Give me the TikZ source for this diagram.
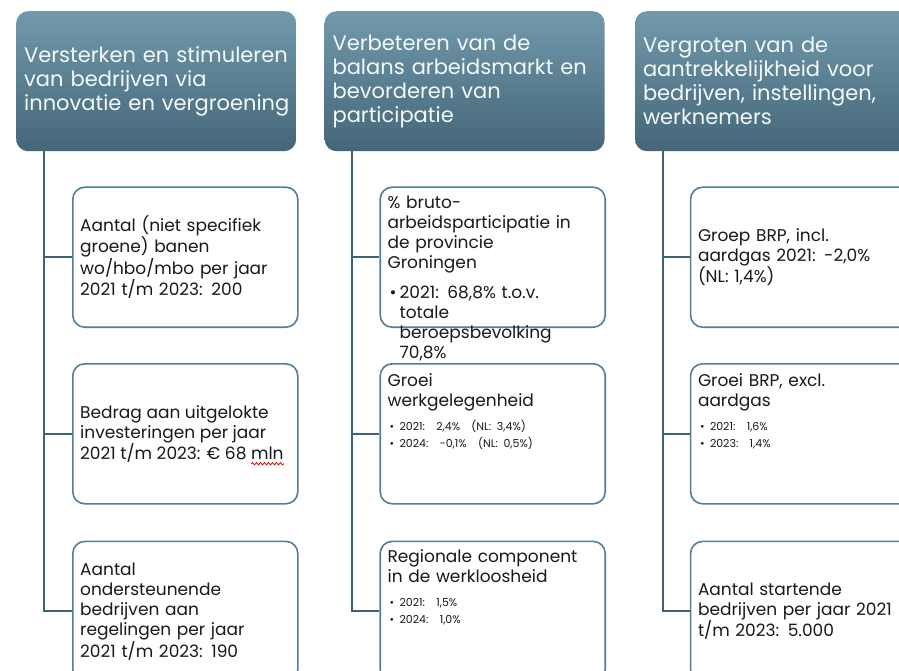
\documentclass[tikz,border=0pt]{standalone}
\usepackage{fontspec}
\setmainfont{Poppins}[Numbers=Proportional]
\usetikzlibrary{positioning,decorations.pathmorphing}
\definecolor{headtop}{RGB}{113,153,172}
\definecolor{headbot}{RGB}{68,102,120}
\definecolor{boxline}{RGB}{80,127,153}
\definecolor{linkcol}{RGB}{63,99,118}
\newcommand{\goaltxt}{\fontsize{17}{20}\selectfont}
\newcommand{\smalltxt}{\fontsize{11}{17}\selectfont}
\newcommand{\sbul}[1]{\hspace*{2pt}\makebox[10pt][l]{\textbullet}#1\par}
\newlength{\mlnwd}

\begin{document}
\settowidth{\mlnwd}{\goaltxt mln}%
\begin{tikzpicture}
        [head/.style={rectangle,rounded corners=12pt,top color=headtop,bottom color=headbot,
                      minimum width=280pt,minimum height=140pt,inner sep=0pt},
         htxt/.style={text width=272pt,align=left,inner sep=0pt,text=white!93!headtop,
                      font=\fontsize{21}{24}\selectfont},
         goal/.style={rectangle,rounded corners=12pt,draw=boxline,line width=1.6pt,fill=white,
                      minimum width=225pt,minimum height=140pt,inner sep=0pt},
         txt/.style={text width=214pt,align=left,inner sep=0pt,text=black!90,font=\goaltxt},
         link/.style={draw=linkcol,line width=1.9pt},
         wave/.style={red,line width=0.8pt,decorate,
                      decoration={snake,amplitude=1.2pt,segment length=4pt}}]
        \useasboundingbox (0,0) rectangle (899pt,-671pt);
        \clip (0,0) rectangle (899pt,-671pt);
        \fill[white] (0,0) rectangle (899pt,-671pt);

        \node[head,anchor=north west](h1) at (16pt,-11pt){};
        \node[head](h2)[right=28pt of h1]{};
        \node[head](h3)[right=30pt of h2]{};
        \node[htxt,anchor=west](h1t) at ([xshift=8pt]h1.west)
                {Versterken en stimuleren\\van bedrijven via\\innovatie en vergroening};
        \node[htxt,anchor=west](h2t) at ([xshift=8pt]h2.west)
                {Verbeteren van de\\balans arbeidsmarkt en\\bevorderen van\\participatie};
        \node[htxt,anchor=west](h3t) at ([xshift=8pt]h3.west)
                {Vergroten van de\\aantrekkelijkheid voor\\bedrijven, instellingen,\\werknemers};

        \node[goal](a1)[below=35pt of h1.south west,anchor=north west,xshift=56pt]{};
        \node[goal](a2)[below=35pt of a1]{};
        \node[goal](a3)[below=36pt of a2]{};
        \node[txt,anchor=west](a1t) at ([xshift=8pt]a1.west)
                {Aantal (niet specifiek\\groene) banen\\wo/hbo/mbo per jaar\\2021 t/m 2023: 200};
        \node[txt,text width=,anchor=west](a2t) at ([xshift=8pt]a2.west)
                {Bedrag aan uitgelokte\\investeringen per jaar\\2021 t/m 2023: € 68 mln};
        \node[txt,anchor=west](a3t) at ([xshift=8pt]a3.west)
                {Aantal\\ondersteunende\\bedrijven aan\\regelingen per jaar\\2021 t/m 2023: 190};
        \draw[wave]([xshift=-\mlnwd,yshift=-1pt]a2t.south east) -- ([yshift=-1pt]a2t.south east);

        \node[goal](b1)[below=35pt of h2.south west,anchor=north west,xshift=55pt]{};
        \node[txt,anchor=north west](b1t) at ([shift={(8pt,-9pt)}]b1.north west)
                {\% bruto-\\arbeidsparticipatie in\\de provincie\\Groningen\par
                 \vspace{10pt}\hangindent=12pt\hangafter=1\noindent
                 \hspace*{2pt}\makebox[10pt][l]{\textbullet}2021: 68,8\% t.o.v.\newline
                 totale\newline beroepsbevolking\newline 70,8\%\par};
        \node[goal](b2)[below=35pt of b1]{};
        \node[goal](b3)[below=36pt of b2]{};
        \node[txt,anchor=north west](b2t) at ([shift={(8pt,-10pt)}]b2.north west)
                {Groei\\werkgelegenheid\par\vspace{7pt}\smalltxt
                 \sbul{2021:\ \ 2,4\%\ \ (NL: 3,4\%)}\sbul{2024:\ \ -0,1\%\ \ (NL: 0,5\%)}};
        \node[txt,anchor=north west](b3t) at ([shift={(8pt,-9pt)}]b3.north west)
                {Regionale component\\in de werkloosheid\par\vspace{7pt}\smalltxt
                 \sbul{2021:\ \ 1,5\%}\sbul{2024:\ \ 1,0\%}};

        \node[goal](c1)[below=35pt of h3.south west,anchor=north west,xshift=55pt]{};
        \node[goal](c2)[below=35pt of c1]{};
        \node[goal](c3)[below=36pt of c2]{};
        \node[txt,anchor=west](c1t) at ([xshift=8pt]c1.west)
                {Groep BRP, incl.\\aardgas 2021: -2,0\%\\(NL: 1,4\%)};
        \node[txt,anchor=north west](c2t) at ([shift={(8pt,-10pt)}]c2.north west)
                {Groei BRP, excl.\\aardgas\par\vspace{7pt}\smalltxt
                 \sbul{2021:\ \ 1,6\%}\sbul{2023:\ \ 1,4\%}};
        \node[txt,text width=260pt,anchor=west](c3t) at ([xshift=8pt]c3.west)
                {Aantal startende\\bedrijven per jaar 2021\\t/m 2023: 5.000};

        \draw[link]([xshift=28pt]h1.south west) |- (a1.west);
        \draw[link]([xshift=28pt]h1.south west) |- (a2.west);
        \draw[link]([xshift=28pt]h1.south west) |- (a3.west);
        \draw[link]([xshift=28pt]h2.south west) |- (b1.west);
        \draw[link]([xshift=28pt]h2.south west) |- (b2.west);
        \draw[link]([xshift=28pt]h2.south west) |- (b3.west);
        \draw[link]([xshift=28pt]h3.south west) |- (c1.west);
        \draw[link]([xshift=28pt]h3.south west) |- (c2.west);
        \draw[link]([xshift=28pt]h3.south west) |- (c3.west);
\end{tikzpicture}
\end{document}
